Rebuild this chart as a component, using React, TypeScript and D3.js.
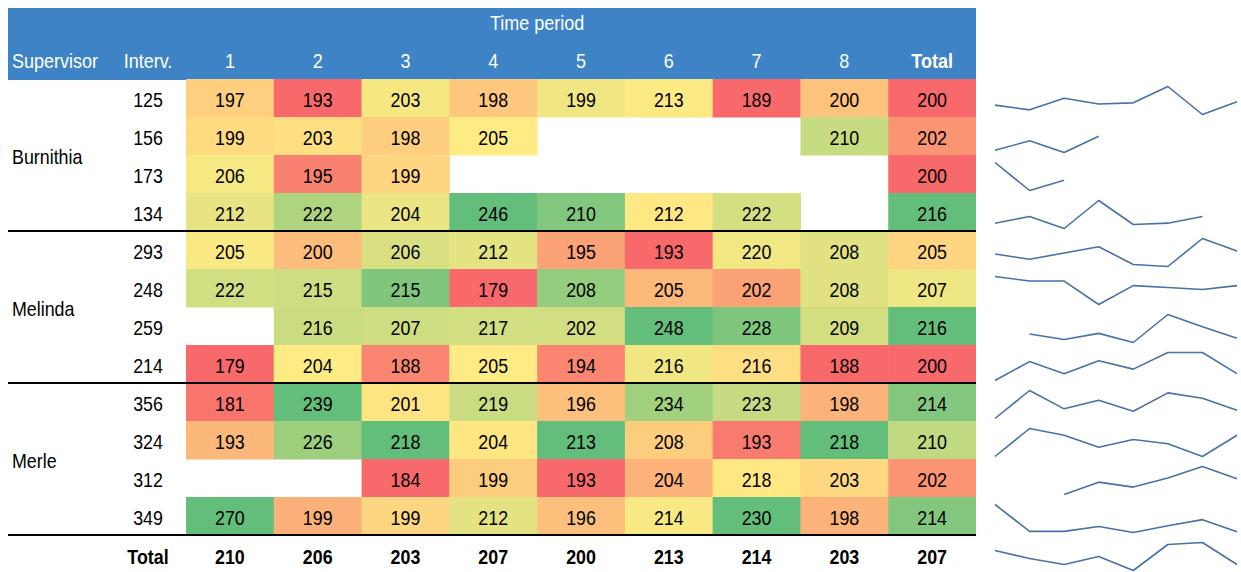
import React from 'react';
import * as d3 from 'd3';

// table data
const periods = ['1', '2', '3', '4', '5', '6', '7', '8'];
const supervisors = ['Burnithia', 'Melinda', 'Merle'];
const interviewers = [125, 156, 173, 134, 293, 248, 259, 214, 356, 324, 312, 349];
const rowSupervisor = [0, 0, 0, 0, 1, 1, 1, 1, 2, 2, 2, 2];
const values: (number | null)[][] = [
  [197, 193, 203, 198, 199, 213, 189, 200],
  [199, 203, 198, 205, null, null, null, 210],
  [206, 195, 199, null, null, null, null, null],
  [212, 222, 204, 246, 210, 212, 222, null],
  [205, 200, 206, 212, 195, 193, 220, 208],
  [222, 215, 215, 179, 208, 205, 202, 208],
  [null, 216, 207, 217, 202, 248, 228, 209],
  [179, 204, 188, 205, 194, 216, 216, 188],
  [181, 239, 201, 219, 196, 234, 223, 198],
  [193, 226, 218, 204, 213, 208, 193, 218],
  [null, null, 184, 199, 193, 204, 218, 203],
  [270, 199, 199, 212, 196, 214, 230, 198],
];
const rowTotals = [200, 202, 200, 216, 205, 207, 216, 200, 214, 210, 202, 214];
const periodTotals = [210, 206, 203, 207, 200, 213, 214, 203];
const grandTotal = 207;

const FONT = '"Liberation Sans", Arial, sans-serif';
const HEADER_BLUE = '#3e83c5';
const LINE_BLUE = '#4a70a6';

const W = 1241;
const H = 572;
const rowH = 38;
const top = 79;
const textDy = 1.8; // excel puts the text a little under the middle

const colScale = d3.scaleBand<string>()
  .domain([...periods, 'Total'])
  .range([186, 976]);
const rowScale = d3.scaleBand<number>()
  .domain(d3.range(interviewers.length + 1))
  .range([top, top + rowH * (interviewers.length + 1)]);

// excel style 3 colour scale per column: min red, median yellow, max green
const colorFor = (col: number[]) => {
  const s = [...col].sort(d3.ascending);
  return d3.scaleLinear<string>()
    .domain([s[0], d3.median(s) as number, s[s.length - 1]])
    .range(['#f8696b', '#ffeb84', '#63be7b'])
    .interpolate(d3.interpolateRgb)
    .clamp(true);
};
const periodColors = periods.map((_, j) =>
  colorFor(values.map(r => r[j]).filter((v): v is number => v != null)));
const totalColor = colorFor(rowTotals);

const sparkX = d3.scalePoint<number>().domain(d3.range(8)).range([995, 1237]);

// the reference font is narrow, so squeeze it sideways
const Txt = ({ x, y, children, anchor = 'middle', bold = false, fill = '#000', size = 21, sx = 0.85 }: any) => (
  <text
    transform={`translate(${x},${y}) scale(${sx},1)`}
    textAnchor={anchor}
    dominantBaseline="central"
    fontFamily={FONT}
    fontSize={size}
    fontWeight={bold ? 'bold' : 'normal'}
    fill={fill}
  >
    {children}
  </text>
);
const HeadTxt = (p: any) => <Txt size={20} sx={0.9} fill="#fff" {...p} />;

const Spark = ({ data, y0 }: { data: (number | null)[]; y0: number }) => {
  const ext = d3.extent(data.filter((v): v is number => v != null)) as [number, number];
  const y = d3.scaleLinear().domain(ext).range([y0 + 35.5, y0 + 7.5]);
  const line = d3.line<number | null>()
    .defined(d => d != null)
    .x((_, i) => sparkX(i) as number)
    .y(d => y(d as number));
  return <path d={line(data) || ''} fill="none" stroke={LINE_BLUE} strokeWidth={1.6} strokeLinejoin="round" />;
};

export default function App() {
  const bw = colScale.bandwidth();
  const totalRow = interviewers.length;
  return (
    <div style={{ position: 'absolute', left: 0, top: 0 }}>
      <svg width={W} height={H} style={{ display: 'block', background: '#fff' }}>
        {/* header */}
        <rect x={8} y={8} width={968} height={top - 8 + 1} fill={HEADER_BLUE} />
        <HeadTxt x={((colScale('1') as number) + (colScale('8') as number) + bw) / 2} y={23}>Time period</HeadTxt>
        <HeadTxt x={12} y={61.5} anchor="start">Supervisor</HeadTxt>
        <HeadTxt x={148} y={61.5}>Interv.</HeadTxt>
        {periods.map(p => (
          <HeadTxt key={p} x={(colScale(p) as number) + bw / 2} y={61.5}>{p}</HeadTxt>
        ))}
        <HeadTxt x={(colScale('Total') as number) + bw / 2} y={61.5} bold>Total</HeadTxt>

        {/* body */}
        {values.map((row, i) => {
          const y0 = rowScale(i) as number;
          const cy = y0 + rowH / 2 + textDy;
          return (
            <g key={i}>
              {row.map((v, j) => v == null ? null : (
                <g key={j}>
                  <rect x={colScale(periods[j])} y={y0} width={bw + 0.5} height={rowH + 0.5} fill={periodColors[j](v)} />
                  <Txt x={(colScale(periods[j]) as number) + bw / 2} y={cy}>{v}</Txt>
                </g>
              ))}
              <rect x={colScale('Total')} y={y0} width={bw} height={rowH + 0.5} fill={totalColor(rowTotals[i])} />
              <Txt x={(colScale('Total') as number) + bw / 2} y={cy}>{rowTotals[i]}</Txt>
              <Txt x={148} y={cy}>{interviewers[i]}</Txt>
              <Spark data={row} y0={y0} />
            </g>
          );
        })}

        {supervisors.map((s, k) => {
          const idx = rowSupervisor.map((r, i) => (r === k ? i : -1)).filter(i => i >= 0);
          const yA = rowScale(idx[0]) as number;
          const yB = (rowScale(idx[idx.length - 1]) as number) + rowH;
          return (
            <g key={s}>
              <Txt x={12} y={(yA + yB) / 2 + textDy} anchor="start">{s}</Txt>
              <line x1={8} x2={976} y1={yB} y2={yB} stroke="#000" strokeWidth={2} />
            </g>
          );
        })}

        {/* total row */}
        {(() => {
          const y0 = rowScale(totalRow) as number;
          const cy = y0 + rowH / 2 + textDy + 0.5;
          return (
            <g>
              <Txt x={148} y={cy} bold>Total</Txt>
              {periodTotals.map((v, j) => (
                <Txt key={j} x={(colScale(periods[j]) as number) + bw / 2} y={cy} bold>{v}</Txt>
              ))}
              <Txt x={(colScale('Total') as number) + bw / 2} y={cy} bold>{grandTotal}</Txt>
              <Spark data={periodTotals} y0={y0} />
            </g>
          );
        })()}
      </svg>
    </div>
  );
}
